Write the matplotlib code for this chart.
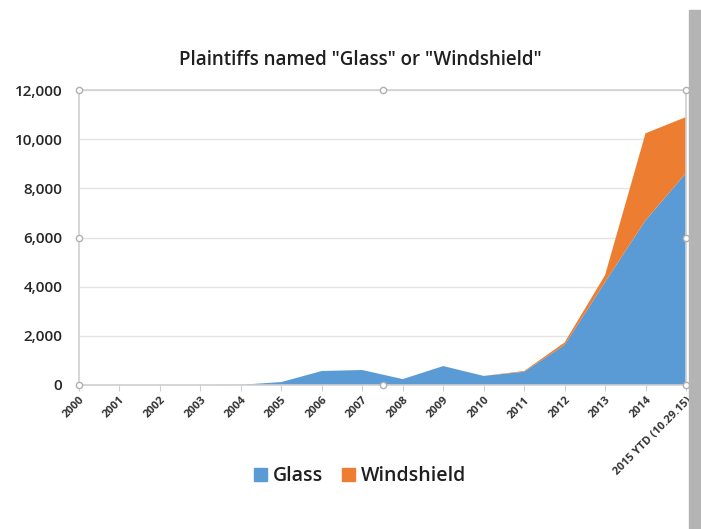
import matplotlib
matplotlib.use("Agg")
import matplotlib.pyplot as plt
from matplotlib.patches import Rectangle, Patch

plt.rcParams['font.family'] = ['Open Sans', 'DejaVu Sans']

categories = ["2000", "2001", "2002", "2003", "2004", "2005", "2006", "2007",
              "2008", "2009", "2010", "2011", "2012", "2013", "2014",
              "2015 YTD (10.29.15)"]
glass = [0, 0, 0, 0, 10, 120, 570, 610, 240, 770, 370, 540, 1630, 4190, 6700, 8620]
windshield = [0, 0, 0, 0, 0, 0, 0, 0, 0, 0, 0, 30, 100, 280, 3540, 2280]
yticks = [0, 2000, 4000, 6000, 8000, 10000, 12000]

fig = plt.figure(figsize=(7.01, 5.29), dpi=100)
ax = fig.add_axes([79/701, 1-385/529, (686-79)/701, (385-90)/529])

x = list(range(len(categories)))
ax.stackplot(x, glass, windshield, colors=["#5B9BD5", "#ED7D31"], linewidth=0)

ax.set_xlim(0, len(categories) - 1)
ax.set_ylim(0, 12000)
ax.set_yticks(yticks)
ax.set_yticklabels([f"{v:,}" for v in yticks], fontsize=11, color="#262626",
                   fontweight="semibold")
ax.set_xticks(x)
ax.set_xticklabels(categories, rotation=45, ha="right", rotation_mode="anchor",
                   fontsize=8, color="#333333", fontweight="bold")
ax.tick_params(axis="y", length=0, pad=12)
ax.tick_params(axis="x", length=4, color="#d0d0d0", pad=3)
ax.grid(axis="y", color="#e4e4e4", linewidth=1)
ax.set_axisbelow(True)
for s in ax.spines.values():
    s.set_color("#cfcfcf")
    s.set_linewidth(1.2)

# selection handles
hx = [0, 0.5, 1, 0, 1, 0, 0.5, 1]
hy = [1, 1, 1, 0.5, 0.5, 0, 0, 0]
ax.plot(hx, hy, "o", transform=ax.transAxes, clip_on=False, ms=4.5,
        mfc="white", mec="#b0b0b0", mew=1, zorder=10)

fig.text(360/701, 1-60/529, 'Plaintiffs named "Glass" or "Windshield"',
         ha="center", va="center", fontsize=13.5, color="#1f1f1f", fontweight="semibold")

handles = [Patch(color="#5B9BD5", label="Glass"), Patch(color="#ED7D31", label="Windshield")]
fig.legend(handles=handles, loc="center", bbox_to_anchor=(360/701, 1-476/529), ncol=2,
           frameon=False, handlelength=0.65, handleheight=0.65,
           handletextpad=0.3, columnspacing=1.0,
           prop={'size': 14, 'weight': 'semibold'}, labelcolor="#1f1f1f")

# gray border bar at right
fig.patches.append(Rectangle((689/701, 0), 12/701, 1-10/529, transform=fig.transFigure,
                             color="#b4b4b4", zorder=0))

fig.savefig("out.png", dpi=100)
